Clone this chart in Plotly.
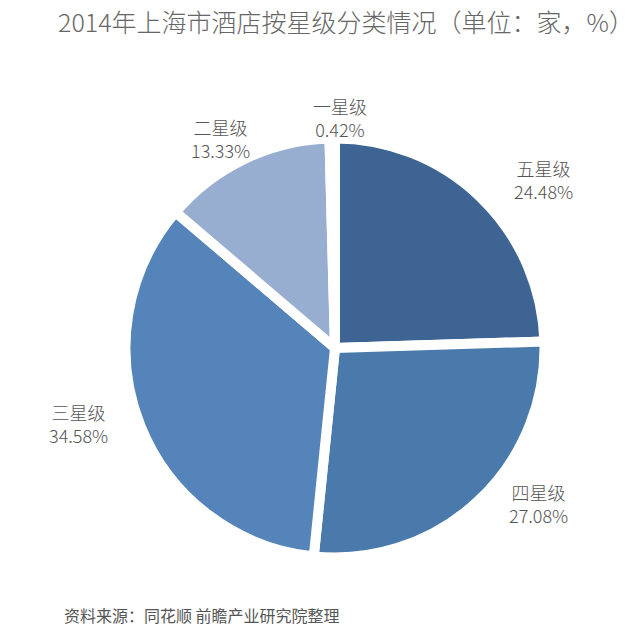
import math
import plotly.graph_objects as go

levels = ["五星级", "四星级", "三星级", "二星级", "一星级"]
shares = [24.48, 27.08, 34.58, 13.33, 0.42]
colors = ["#3e6493", "#4a7aab", "#5584bb", "#98aed1", "#b9c9e1"]

W, H = 640, 627
cx, cy, R = 327, 340, 209.5   # pie centre / domain half-size in pixels
lx, ly, rx, ry = 336, 332, 286, 223  # label ring (ellipse) in pixels

fig = go.Figure()

fig.add_trace(
    go.Pie(
        labels=levels,
        values=shares,
        sort=False,
        direction="clockwise",
        rotation=0,
        marker=dict(colors=colors, line=dict(color="white", width=10)),
        textinfo="none",
        showlegend=False,
        hoverinfo="skip",
        domain=dict(x=[(cx - R) / W, (cx + R) / W],
                    y=[(H - cy - R) / H, (H - cy + R) / H]),
    )
)

# labels outside each slice, along the slice's middle angle
total = sum(shares)
annotations = []
acc = 0
for name, v in zip(levels, shares):
    mid = (acc + v / 2) / total * 2 * math.pi
    acc += v
    annotations.append(dict(
        text=f"{name}<br>{v:.2f}%",
        x=(lx + rx * math.sin(mid)) / W,
        y=(H - ly + ry * math.cos(mid)) / H,
        xref="paper", yref="paper",
        xanchor="center", yanchor="middle",
        showarrow=False,
        font=dict(family="Noto Sans CJK SC", size=18, color="#555555", weight=300),
    ))

annotations.append(dict(
    text="资料来源：同花顺 前瞻产业研究院整理",
    x=54 / W, y=1 - 607 / H,
    xref="paper", yref="paper",
    xanchor="left", yanchor="middle",
    showarrow=False,
    font=dict(family="Noto Sans CJK SC", size=16, color="#555555"),
))

fig.update_layout(
    width=W,
    height=H,
    margin=dict(l=0, r=0, t=0, b=0),
    paper_bgcolor="white",
    title=dict(
        text="2014年上海市酒店按星级分类情况（单位：家，%）",
        x=338 / W,
        xanchor="center",
        y=1 - 15 / H,
        yanchor="middle",
        font=dict(family="Noto Sans CJK SC", size=25, color="#666666", weight=300),
    ),
    annotations=annotations,
)

fig.write_html("out.html")
